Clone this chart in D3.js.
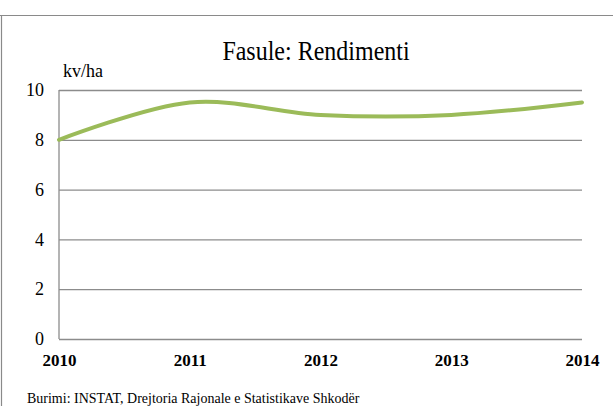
<!DOCTYPE html>
<html><head><meta charset="utf-8">
<script src="https://cdn.jsdelivr.net/npm/d3@7"></script>
<style>
html,body{margin:0;padding:0;background:#fff;}
svg{display:block;}
text{font-family:"Liberation Serif","Times New Roman",serif;fill:#000;}
</style></head>
<body>
<svg id="c" width="613" height="406"></svg>
<script>
const years = ["2010","2011","2012","2013","2014"];
const values = [8.0, 9.5, 9.0, 9.0, 9.5];
const yTicks = [0, 2, 4, 6, 8, 10];
const title = "Fasule: Rendimenti";
const unit = "kv/ha";
const source = "Burimi: INSTAT, Drejtoria Rajonale e Statistikave Shkodër";

const svg = d3.select("#c");
const x = d3.scalePoint().domain(years).range([59, 582]);
const y = d3.scaleLinear().domain([0, 10]).range([339, 90]);

// frame
svg.append("line").attr("x1",0).attr("x2",613).attr("y1",15.5).attr("y2",15.5)
  .attr("stroke","#8a8a8a").attr("stroke-width",1.2);
svg.append("line").attr("x1",1.5).attr("x2",1.5).attr("y1",15).attr("y2",406)
  .attr("stroke","#8a8a8a").attr("stroke-width",1.2);

// gridlines
const yAxis = d3.axisLeft(y).tickValues(yTicks).tickSize(-(582-59)).tickPadding(15).tickFormat(d3.format("d"));
const ga = svg.append("g").attr("transform","translate(59,0)").call(yAxis);
ga.select(".domain").remove();
ga.selectAll(".tick line").attr("stroke","#8c8c8c").attr("stroke-width",1.3);
ga.selectAll(".tick text").attr("font-size",18).attr("font-family","Liberation Serif, serif").attr("fill","#000");

// left axis line
svg.append("line").attr("x1",59).attr("x2",59).attr("y1",y(10)).attr("y2",y(0))
  .attr("stroke","#8c8c8c").attr("stroke-width",1.3);

// x labels
const xAxis = d3.axisBottom(x).tickSize(0).tickPadding(0);
const gx = svg.append("g").attr("transform","translate(0,0)").call(xAxis);
gx.select(".domain").remove();
gx.selectAll(".tick text").attr("y",366).attr("dy",null).attr("font-size",17)
  .attr("font-weight","bold").attr("font-family","Liberation Serif, serif").attr("fill","#000");

// line
const line = d3.line().x((d,i)=>x(years[i])).y(d=>y(d)).curve(d3.curveCardinal.tension(0));
svg.append("path").datum(values).attr("d",line).attr("fill","none")
  .attr("stroke","#9bbb59").attr("stroke-width",4).attr("stroke-linecap","round");

// title
svg.append("text").attr("transform","translate(316,59.5) scale(1,1.12)")
  .attr("text-anchor","middle").attr("font-size",24).text(title);
svg.append("text").attr("transform","translate(63,77) scale(1,1.08)")
  .attr("font-size",18).text(unit);
svg.append("text").attr("transform","translate(27,403) scale(1,1.1)")
  .attr("font-size",14).text(source);
</script>
</body></html>
